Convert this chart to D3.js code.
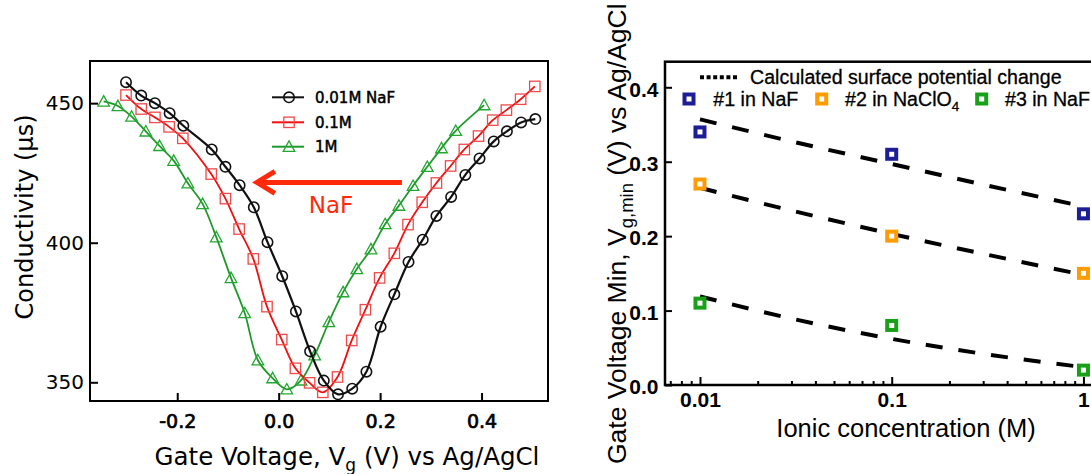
<!DOCTYPE html>
<html>
<head>
<meta charset="utf-8">
<script src="https://cdn.jsdelivr.net/npm/d3@7/dist/d3.min.js"></script>
<style>
  html, body { margin: 0; padding: 0; background: #fff; }
  svg { display: block; }
</style>
</head>
<body>
<svg id="chart" width="1091" height="474"></svg>
<script>
// ---------------- Left panel data ----------------
const vgBlack = [-0.301,-0.271,-0.244,-0.215,-0.188,-0.132,-0.105,-0.077,-0.049,-0.022,0.007,0.034,0.062,0.089,0.117,0.145,0.173,0.201,0.228,0.256,0.284,0.311,0.340,0.368,0.396,0.424,0.450,0.478,0.506];
const condBlack = [457.5,452.7,450.0,446.4,441.9,433.4,427.2,420.6,412.7,400.2,388.0,375.4,361.1,350.6,345.7,347.7,353.8,369.9,381.5,393.1,401.1,409.6,416.4,424.3,430.2,436.3,439.9,443.1,444.3];

const vgRed = [-0.301,-0.271,-0.244,-0.216,-0.189,-0.133,-0.105,-0.078,-0.050,-0.023,0.006,0.033,0.061,0.087,0.116,0.144,0.171,0.199,0.228,0.255,0.283,0.311,0.339,0.366,0.394,0.422,0.449,0.477,0.505];
const condRed = [452.9,447.9,444.9,441.5,437.4,424.6,415.8,404.9,394.2,377.1,365.3,355.0,349.8,346.4,351.9,365.0,376.0,387.4,396.2,406.5,414.5,421.4,427.5,433.4,438.2,443.9,447.5,451.4,456.0];

const vgGreen = [-0.345,-0.317,-0.290,-0.262,-0.235,-0.207,-0.179,-0.150,-0.123,-0.094,-0.067,-0.041,-0.012,0.016,0.044,0.071,0.099,0.127,0.154,0.182,0.210,0.237,0.265,0.293,0.321,0.349,0.405];
const condGreen = [450.6,449.0,445.2,439.9,434.7,429.4,421.3,413.9,402.0,387.4,374.8,357.9,351.5,347.5,350.7,359.7,371.6,382.3,390.6,397.7,406.7,413.3,420.4,427.2,433.9,440.1,449.3];

const leftSeriesNames = ["0.01M NaF", "0.1M", "1M"];
const leftXTicks = [-0.2, 0.0, 0.2, 0.4];
const leftYTicks = [350, 400, 450];
const arrowV = [0.243, -0.043];
const arrowC = [421.6, 421.6];
const arrowLabel = "NaF";

// ---------------- Right panel data ----------------
const concentrations = [0.01, 0.1, 1];
const vminNaF1 = [0.34, 0.31, 0.23];
const vminNaClO4 = [0.27, 0.20, 0.15];
const vminNaF3 = [0.11, 0.08, 0.02];
const calcConc = [0.01, 0.0316, 0.1, 0.316, 1];
const calc1 = [0.357, 0.326, 0.297, 0.268, 0.240];
const calc2 = [0.265, 0.233, 0.203, 0.175, 0.148];
const calc3 = [0.119, 0.088, 0.062, 0.041, 0.024];
const rightXTicks = [0.01, 0.1, 1];
const rightXTickLabels = ["0.01", "0.1", "1"];
const rightYTicks = [0.0, 0.1, 0.2, 0.3, 0.4];
const rightSeriesNames = ["#1 in NaF", "#2 in NaClO", "#3 in NaF"];

// ---------------- Drawing ----------------
const svg = d3.select("#chart");
const LFONT = "'DejaVu Sans', sans-serif";
const RFONT = "'Liberation Sans', Arial, sans-serif";

// ===== Left panel =====
const L = {x0: 90, x1: 548, y0: 61, y1: 401};
const lx = d3.scaleLinear().domain([-0.372, 0.531]).range([L.x0, L.x1]);
const ly = d3.scaleLinear().domain([343.3, 465.1]).range([L.y1, L.y0]);
const left = svg.append("g");

const lxAxis = d3.axisBottom(lx).tickValues(leftXTicks).tickSizeInner(-8).tickSizeOuter(0)
  .tickPadding(13.5).tickFormat(d => d.toFixed(1));
const gx = left.append("g").attr("transform", `translate(0,${L.y1})`).call(lxAxis);
gx.select(".domain").remove();
gx.selectAll("line").attr("stroke", "#000").attr("stroke-width", 2);
gx.selectAll("text").attr("font-family", LFONT).attr("font-size", 19).attr("fill", "#000")
  .attr("stroke", "#000").attr("stroke-width", 0.7);

const lyAxis = d3.axisLeft(ly).tickValues(leftYTicks).tickSizeInner(-8).tickSizeOuter(0).tickPadding(6);
const gy = left.append("g").attr("transform", `translate(${L.x0},0)`).call(lyAxis);
gy.select(".domain").remove();
gy.selectAll("line").attr("stroke", "#000").attr("stroke-width", 2);
gy.selectAll("text").attr("font-family", LFONT).attr("font-size", 20).attr("fill", "#000");

left.append("rect").attr("x", L.x0).attr("y", L.y0).attr("width", L.x1 - L.x0).attr("height", L.y1 - L.y0)
  .attr("fill", "none").attr("stroke", "#000").attr("stroke-width", 2);

const lineGen = d3.line().x(d => lx(d[0])).y(d => ly(d[1])).curve(d3.curveCatmullRom.alpha(0.5));
const leftSeries = [
  {vg: vgGreen, c: condGreen, color: "#1f9a2a", mcolor: "#22a830", w: 1.8, shape: "tri"},
  {vg: vgRed, c: condRed, color: "#f01010", mcolor: "#f04a4a", w: 1.8, shape: "sq"},
  {vg: vgBlack, c: condBlack, color: "#111", mcolor: "#111", w: 2.2, shape: "circ"}
];
function marker(g, shape, x, y, color) {
  if (shape === "circ") {
    g.append("circle").attr("cx", x).attr("cy", y).attr("r", 5.2).attr("fill", "none").attr("stroke", color).attr("stroke-width", 1.6);
  } else if (shape === "sq") {
    g.append("rect").attr("x", x - 5.2).attr("y", y - 5.2).attr("width", 10.4).attr("height", 10.4).attr("fill", "none").attr("stroke", color).attr("stroke-width", 1.3);
  } else {
    const s = 5.8;
    g.append("path").attr("d", `M${x},${y - s}L${x + s},${y + s * 0.8}L${x - s},${y + s * 0.8}Z`).attr("fill", "none").attr("stroke", color).attr("stroke-width", 1.3);
  }
}
leftSeries.forEach(s => {
  const pts = s.vg.map((v, i) => [v, s.c[i]]);
  left.append("path").attr("d", lineGen(pts)).attr("fill", "none").attr("stroke", s.color).attr("stroke-width", s.w);
  const mg = left.append("g");
  pts.forEach(p => marker(mg, s.shape, lx(p[0]), ly(p[1]), s.mcolor));
});

// legend
const legY = [97.3, 122.3, 146.7];
const legItems = [
  {name: leftSeriesNames[0], color: "#111", m: "circ"},
  {name: leftSeriesNames[1], color: "#f01010", mcolor: "#f04a4a", m: "sq"},
  {name: leftSeriesNames[2], color: "#1f9a2a", mcolor: "#22a830", m: "tri"}
];
legItems.forEach((it, i) => {
  const g = left.append("g");
  g.append("line").attr("x1", 272).attr("x2", 304).attr("y1", legY[i]).attr("y2", legY[i]).attr("stroke", it.color).attr("stroke-width", 2);
  marker(g, it.m, 289, legY[i], it.mcolor || it.color);
  g.append("text").attr("x", 315).attr("y", legY[i] + 5.5).attr("font-family", LFONT).attr("font-size", 15)
    .attr("fill", "#000").attr("stroke", "#000").attr("stroke-width", 0.5).text(it.name);
});

// arrow + NaF
const ax0 = lx(arrowV[0]), ax1 = lx(arrowV[1]), ayy = ly(arrowC[0]);
left.append("line").attr("x1", ax0).attr("x2", ax1 + 2).attr("y1", ayy).attr("y2", ayy).attr("stroke", "#ff2a0a").attr("stroke-width", 5);
left.append("path").attr("d", `M${ax1 + 18},${ayy - 11}L${ax1},${ayy}L${ax1 + 18},${ayy + 11}`)
  .attr("fill", "none").attr("stroke", "#ff2a0a").attr("stroke-width", 5).attr("stroke-linejoin", "miter");
left.append("text").attr("x", 331).attr("y", 213).attr("text-anchor", "middle").attr("font-family", LFONT)
  .attr("font-size", 23).attr("fill", "#ff2a0a").text(arrowLabel);

// titles
left.append("text").attr("transform", "translate(33,217) rotate(-90)").attr("text-anchor", "middle")
  .attr("font-family", LFONT).attr("font-size", 24).attr("fill", "#000").text("Conductivity (µs)");
const xt = left.append("text").attr("x", 347).attr("y", 465).attr("text-anchor", "middle")
  .attr("font-family", LFONT).attr("font-size", 24.5).attr("fill", "#000");
xt.append("tspan").text("Gate Voltage, V");
xt.append("tspan").attr("dy", 6).attr("font-size", 17).text("g");
xt.append("tspan").attr("dy", -6).text(" (V) vs Ag/AgCl");

// ===== Right panel =====
const R = {x0: 665, x1: 1100, y0: 61.7, y1: 385};
const rx = d3.scaleLog().domain([0.00657, 1.22]).range([R.x0, R.x1]);
const ry = d3.scaleLinear().domain([0, 0.4344]).range([R.y1, R.y0]);
const right = svg.append("g");

// minor ticks
const minorTicks = [];
[0.001, 0.01, 0.1, 1].forEach(dec => { for (let k = 2; k <= 9; k++) { const v = dec * k; if (v > 0.00657 && v < 1.22) minorTicks.push(v); } });
const rxMinor = d3.axisBottom(rx).tickValues(minorTicks).tickSizeInner(-4).tickSizeOuter(0).tickFormat("");
const gmin = right.append("g").attr("transform", `translate(0,${R.y1})`).call(rxMinor);
gmin.select(".domain").remove();
gmin.selectAll("line").attr("stroke", "#000").attr("stroke-width", 2);

const rxAxis = d3.axisBottom(rx).tickValues(rightXTicks).tickSizeInner(-8).tickSizeOuter(0).tickPadding(7)
  .tickFormat((d, i) => rightXTickLabels[i]);
const grx = right.append("g").attr("transform", `translate(0,${R.y1})`).call(rxAxis);
grx.select(".domain").remove();
grx.selectAll("line").attr("stroke", "#000").attr("stroke-width", 2);
grx.selectAll("text").attr("font-family", RFONT).attr("font-size", 21).attr("font-weight", "bold").attr("fill", "#000");

const ryAxis = d3.axisLeft(ry).tickValues(rightYTicks).tickSizeInner(-7).tickSizeOuter(0).tickPadding(6.5)
  .tickFormat(d => d.toFixed(1));
const gry = right.append("g").attr("transform", `translate(${R.x0},0)`).call(ryAxis);
gry.select(".domain").remove();
gry.selectAll("line").attr("stroke", "#000").attr("stroke-width", 2);
gry.selectAll("text").attr("font-family", RFONT).attr("font-size", 21).attr("font-weight", "bold").attr("fill", "#000")
  .attr("dy", "0.42em");

right.append("rect").attr("x", R.x0).attr("y", R.y0).attr("width", R.x1 - R.x0).attr("height", R.y1 - R.y0)
  .attr("fill", "none").attr("stroke", "#000").attr("stroke-width", 2.5);

// dashed calculated lines
const rLine = d3.line().x(d => rx(d[0])).y(d => ry(d[1])).curve(d3.curveMonotoneX);
[calc1, calc2, calc3].forEach(arr => {
  right.append("path").attr("d", rLine(calcConc.map((c, i) => [c, arr[i]])))
    .attr("fill", "none").attr("stroke", "#000").attr("stroke-width", 4).attr("stroke-dasharray", "17,16");
});

// square markers
const rColors = ["#1d1d96", "#ff9c00", "#18a018"];
function sqMarker(g, x, y, color) {
  g.append("rect").attr("x", x - 4.5).attr("y", y - 4.5).attr("width", 9).attr("height", 9)
    .attr("fill", "#fff").attr("stroke", color).attr("stroke-width", 4);
}
[vminNaF1, vminNaClO4, vminNaF3].forEach((arr, si) => {
  const g = right.append("g");
  arr.forEach((v, i) => sqMarker(g, rx(concentrations[i]), ry(v), rColors[si]));
});

// legend
right.append("line").attr("x1", 700).attr("x2", 738.5).attr("y1", 77.3).attr("y2", 77.3)
  .attr("stroke", "#000").attr("stroke-width", 4).attr("stroke-dasharray", "4,2.6");
right.append("text").attr("x", 750).attr("y", 83.5).attr("font-family", RFONT).attr("font-size", 19.6)
  .attr("fill", "#000").attr("stroke", "#000").attr("stroke-width", 0.3).text("Calculated surface potential change");
const legSqX = [689, 821.7, 981.7];
const legTxX = [713.3, 845, 1005];
rightSeriesNames.forEach((n, i) => {
  sqMarker(right, legSqX[i], 99, rColors[i]);
  const t = right.append("text").attr("x", legTxX[i]).attr("y", 106).attr("font-family", RFONT).attr("font-size", 19.6)
    .attr("fill", "#000").attr("stroke", "#000").attr("stroke-width", 0.3).text(n);
  if (i === 1) t.append("tspan").attr("dy", 5).attr("font-size", 13.5).text("4");
});

// titles
right.append("text").attr("x", 906).attr("y", 437).attr("text-anchor", "middle").attr("font-family", RFONT)
  .attr("font-size", 25.5).attr("fill", "#000").text("Ionic concentration (M)");
const yt = right.append("text").attr("transform", "translate(626,464) rotate(-90)").attr("text-anchor", "start")
  .attr("font-family", RFONT).attr("font-size", 26.5).attr("fill", "#000");
yt.append("tspan").text("Gate Voltage Min, V");
yt.append("tspan").attr("dy", 7).attr("font-size", 18.5).text("g,min");
yt.append("tspan").attr("dy", -7).text(" (V) vs Ag/AgCl");
</script>
</body>
</html>
